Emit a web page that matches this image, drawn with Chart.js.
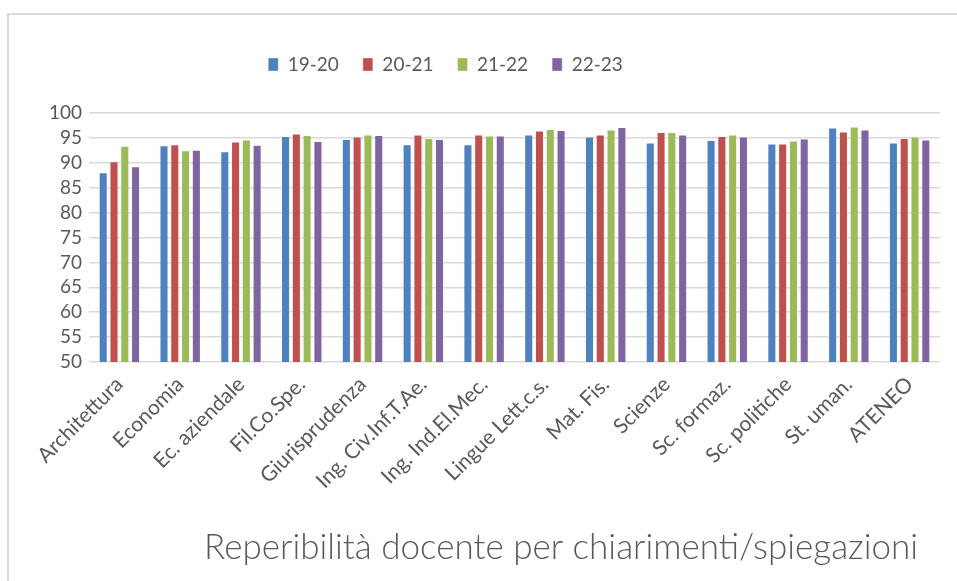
<!DOCTYPE html>
<html>
<head>
<meta charset="utf-8">
<script src="https://cdn.jsdelivr.net/npm/chart.js@4"></script>
<style>
  html, body { margin: 0; padding: 0; background: #fff; }
  #box {
    position: absolute; left: 7px; top: 13px; width: 950px; height: 568px;
    border-left: 2px solid #d9d9d9; border-top: 2px solid #d9d9d9;
  }
  #chart { display: block; }
</style>
</head>
<body>
<div id="box"><canvas id="chart" width="948" height="566"></canvas></div>
<script>
const categories = ['Architettura', 'Economia', 'Ec. aziendale', 'Fil.Co.Spe.', 'Giurisprudenza',
  'Ing. Civ.Inf.T.Ae.', 'Ing. Ind.El.Mec.', 'Lingue Lett.c.s.', 'Mat. Fis.', 'Scienze',
  'Sc. formaz.', 'Sc. politiche', 'St. uman.', 'ATENEO']
const years = ['19-20', '20-21', '21-22', '22-23']
const v1920 = [88.1, 93.5, 92.3, 95.4, 94.8, 93.7, 93.7, 95.7, 95.3, 94.1, 94.6, 93.9, 97.1, 94.1]
const v2021 = [90.3, 93.7, 94.3, 95.9, 95.3, 95.7, 95.7, 96.5, 95.7, 96.2, 95.4, 93.9, 96.3, 95.0]
const v2122 = [93.4, 92.5, 94.7, 95.6, 95.7, 95.0, 95.5, 96.8, 96.7, 96.2, 95.7, 94.5, 97.3, 95.3]
const v2223 = [89.3, 92.6, 93.6, 94.4, 95.6, 94.8, 95.5, 96.6, 97.2, 95.7, 95.3, 94.9, 96.7, 94.7]
const yTicks = [50, 55, 60, 65, 70, 75, 80, 85, 90, 95, 100]
const colors = ['#4f81bd', '#c0504d', '#9bbb59', '#8064a2']
const title = 'Reperibilità docente per chiarimenti/spiegazioni'

const font = 'Lato, "Open Sans", sans-serif'
const grey = '#595959'

// Excel puts the legend left of centre and the title a little in from the edge
const nudge = {
  id: 'nudge',
  afterLayout(chart) {
    chart.legend.left -= 29
    chart.legend.right -= 29
    chart.legend.top -= 29
    chart.legend.bottom -= 29
    chart.titleBlock.left -= 22
    chart.titleBlock.right -= 22
  },
}

const series = [v1920, v2021, v2122, v2223]

new Chart(document.getElementById('chart').getContext('2d'), {
  type: 'bar',
  data: {
    labels: categories,
    datasets: series.map((values, i) => ({
      label: years[i],
      data: values,
      backgroundColor: colors[i],
      borderColor: 'rgba(255,255,255,0.35)',
      borderWidth: 1,
      barPercentage: 0.84,
      categoryPercentage: 0.71,
    })),
  },
  plugins: [nudge],
  options: {
    responsive: false,
    animation: false,
    layout: { padding: { left: 0, right: 17, top: 45, bottom: 12 } },
    plugins: {
      legend: {
        position: 'top',
        labels: {
          boxWidth: 10,
          boxHeight: 13,
          padding: 24,
          color: grey,
          font: { family: font, size: 19 },
        },
      },
      title: {
        display: true,
        text: title,
        position: 'bottom',
        align: 'end',
        color: grey,
        font: { family: font, size: 35, weight: 300 },
        padding: { top: 0, bottom: 0 },
      },
      tooltip: { enabled: false },
    },
    scales: {
      x: {
        grid: { display: false },
        border: { display: false },
        ticks: {
          color: grey,
          font: { family: font, size: 21 },
          minRotation: 45,
          maxRotation: 45,
          padding: 2,
        },
        afterFit: (scale) => { scale.height = 165 },
      },
      y: {
        min: 50,
        max: 100,
        afterBuildTicks: (scale) => { scale.ticks = yTicks.map((v) => ({ value: v })) },
        grid: { color: '#d9d9d9', lineWidth: 1.5, drawTicks: false },
        border: { display: false },
        ticks: {
          autoSkip: false,
          color: grey,
          font: { family: font, size: 19 },
          padding: 7,
        },
        afterFit: (scale) => { scale.width = 80 },
      },
    },
  },
})
</script>
</body>
</html>
